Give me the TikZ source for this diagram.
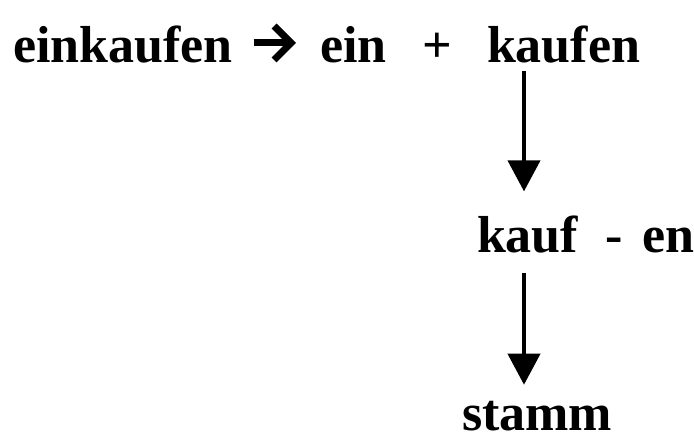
\documentclass[tikz,border=0pt]{standalone}
\usepackage{fontspec}
\setmainfont{Liberation Serif}
\usetikzlibrary{arrows.meta}
\tikzset{
  word/.style={inner sep=0pt, outer sep=0pt, anchor=base west, font=\bfseries\fontsize{52}{60}\selectfont},
  varrow/.style={line width=4pt, -{Triangle[length=31pt,width=32pt]}},
  harrow/.style={line width=7pt, -{Straight Barb[length=17pt,width=34pt]}}
}
\begin{document}
\begin{tikzpicture}[x=1pt,y=1pt]
\useasboundingbox (0,0) rectangle (694,441);
\node[word] (einkaufen) at (13,378) {einkaufen};
\node[word] (ein) at (320,378) {ein};
\node[word, anchor=base] (plus) at (437,378) {+};
\node[word] (kaufen) at (487,378) {kaufen};
\node[word] (kaufen2) at (477,188) {kauf\hspace{27pt}-\hspace{20pt}en};
\node[word] (stamm) at (462,10) {stamm};
\coordinate (ax) at (524,0);
\draw[harrow, shorten <=21pt, shorten >=24pt] ([yshift=20pt]einkaufen.base east) -- ([yshift=20pt]ein.base west);
\draw[varrow, shorten <=7pt, shorten >=25pt] (kaufen.south -| ax) -- (kaufen2.north -| ax);
\draw[varrow, shorten <=19pt, shorten >=17pt] (kaufen2.south -| ax) -- (stamm.north -| ax);
\end{tikzpicture}
\end{document}
